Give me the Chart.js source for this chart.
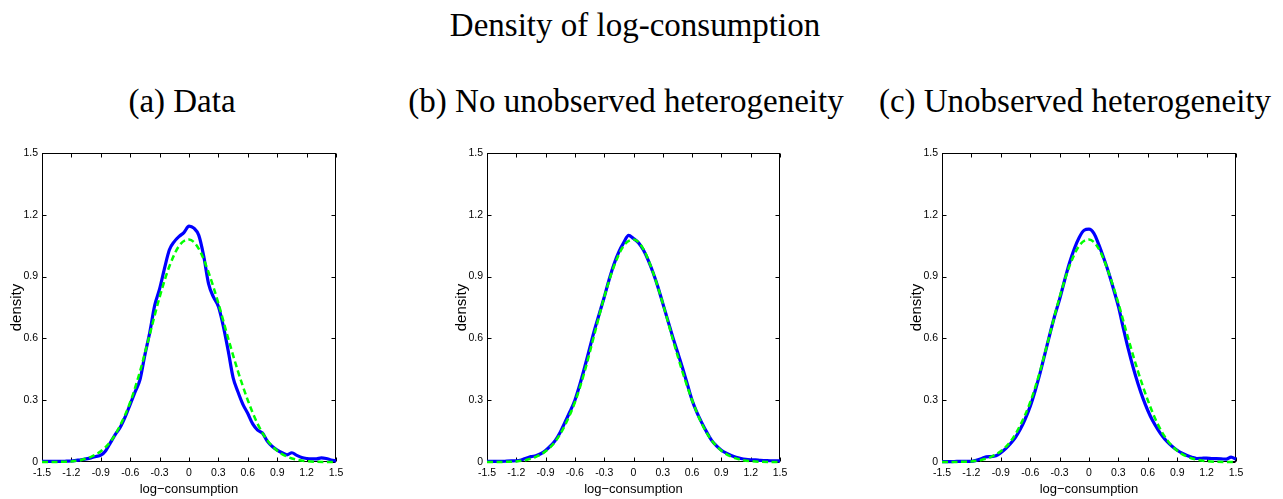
<!DOCTYPE html>
<html><head><meta charset="utf-8">
<script src="https://cdn.jsdelivr.net/npm/chart.js@4.4.0/dist/chart.umd.min.js"></script>
<style>
html,body{margin:0;padding:0;background:#fff;}
body{width:1283px;height:499px;position:relative;overflow:hidden;}
.t{position:absolute;font-family:"Liberation Serif","Times New Roman",serif;font-size:33px;line-height:33px;white-space:nowrap;color:#000;text-align:center;width:600px;}
.c{position:absolute;top:140px;}
</style></head><body>
<div class="t" style="left:335px;top:9px">Density of log-consumption</div>
<div class="t" style="left:-118px;top:85px">(a) Data</div>
<div class="t" style="left:326px;top:85px">(b) No unobserved heterogeneity</div>
<div class="t" style="left:775px;top:85px">(c) Unobserved heterogeneity</div>
<canvas class="c" id="ca" width="360" height="359" style="left:0px"></canvas>
<canvas class="c" id="cb" width="359" height="359" style="left:445px"></canvas>
<canvas class="c" id="cc" width="360" height="359" style="left:900px"></canvas>
<script>
// log-consumption grid (fine) for kernel densities
const xFine = [-1.5,-1.45,-1.4,-1.35,-1.3,-1.25,-1.2,-1.15,-1.1,-1.05,-1.0,-0.95,-0.9,-0.85,-0.8,-0.75,-0.7,-0.65,-0.6,-0.55,-0.5,-0.45,-0.4,-0.35,-0.3,-0.25,-0.2,-0.15,-0.1,-0.05,0,0.05,0.1,0.15,0.2,0.25,0.3,0.35,0.4,0.45,0.5,0.55,0.6,0.65,0.7,0.75,0.8,0.85,0.9,0.95,1.0,1.05,1.1,1.15,1.2,1.25,1.3,1.35,1.4,1.45,1.5];
// coarse grid for the reference (dashed) density
const xCoarse = [-1.5,-1.4,-1.3,-1.2,-1.1,-1.0,-0.9,-0.8,-0.7,-0.6,-0.5,-0.4,-0.3,-0.2,-0.1,0,0.1,0.2,0.3,0.4,0.5,0.6,0.7,0.8,0.9,1.0,1.1,1.2,1.3,1.4,1.5];

const densityData = [0.003,0.003,0.003,0.003,0.003,0.004,0.005,0.008,0.011,0.015,0.02,0.027,0.033,0.055,0.095,0.135,0.17,0.22,0.28,0.34,0.40,0.52,0.63,0.76,0.84,0.94,1.03,1.07,1.095,1.115,1.145,1.135,1.10,1.0,0.865,0.80,0.755,0.66,0.54,0.41,0.34,0.28,0.235,0.185,0.155,0.14,0.10,0.075,0.058,0.045,0.035,0.045,0.032,0.022,0.017,0.015,0.015,0.02,0.017,0.01,0.005];
const densityNoHet = [0.003,0.003,0.003,0.003,0.004,0.005,0.006,0.01,0.018,0.026,0.03,0.04,0.056,0.078,0.105,0.145,0.195,0.245,0.30,0.375,0.46,0.55,0.64,0.72,0.80,0.885,0.96,1.02,1.065,1.10,1.085,1.065,1.03,0.98,0.92,0.85,0.77,0.69,0.61,0.535,0.46,0.38,0.30,0.24,0.19,0.145,0.105,0.078,0.057,0.043,0.032,0.023,0.017,0.013,0.011,0.01,0.008,0.007,0.006,0.006,0.005];
const densityHet = [0.002,0.002,0.002,0.003,0.003,0.003,0.003,0.008,0.016,0.025,0.026,0.03,0.045,0.065,0.09,0.12,0.16,0.21,0.27,0.345,0.43,0.525,0.62,0.71,0.79,0.88,0.965,1.035,1.09,1.125,1.13,1.11,1.055,0.99,0.92,0.84,0.755,0.65,0.55,0.46,0.38,0.31,0.25,0.20,0.16,0.125,0.097,0.075,0.057,0.043,0.032,0.023,0.017,0.018,0.019,0.017,0.016,0.015,0.014,0.024,0.013];
const referenceDensity = [0,0,0.001,0.003,0.01,0.025,0.052,0.1,0.18,0.29,0.44,0.62,0.80,0.95,1.05,1.08,1.035,0.92,0.77,0.60,0.44,0.30,0.185,0.105,0.055,0.026,0.011,0.004,0.001,0,0];

const xTickValues = [-1.5,-1.2,-0.9,-0.6,-0.3,0,0.3,0.6,0.9,1.2,1.5];
const xTickLabels = ['-1.5','-1.2','-0.9','-0.6','-0.3','0','0.3','0.6','0.9','1.2','1.5'];
const yTickValues = [0,0.3,0.6,0.9,1.2,1.5];
const yTickLabels = ['0','0.3','0.6','0.9','1.2','1.5'];

const SANS = '"Liberation Sans", Arial, Helvetica, sans-serif';

const boxPlugin = {
  id: 'matlabBox',
  beforeDatasetsDraw(chart) {
    const {ctx, chartArea: a, scales} = chart;
    const L = Math.round(a.left) + 0.5, R = Math.round(a.right) - 0.5;
    const T = Math.round(a.top) + 0.5, B = Math.round(a.bottom) - 0.5;
    ctx.save();
    ctx.strokeStyle = '#000';
    ctx.lineWidth = 1;
    ctx.strokeRect(L, T, R - L, B - T);
    const tl = 4;
    ctx.beginPath();
    xTickValues.forEach(v => {
      const px = Math.round(scales.x.getPixelForValue(v)) + 0.5;
      ctx.moveTo(px, B); ctx.lineTo(px, B - tl);
      ctx.moveTo(px, T); ctx.lineTo(px, T + tl);
    });
    yTickValues.forEach(v => {
      const py = Math.round(scales.y.getPixelForValue(v)) + 0.5;
      ctx.moveTo(L, py); ctx.lineTo(L + tl, py);
      ctx.moveTo(R, py); ctx.lineTo(R - tl, py);
    });
    ctx.stroke();
    ctx.restore();
  }
};

function makeChart(id, blue) {
  return new Chart(document.getElementById(id), {
    type: 'line',
    data: {
      datasets: [
        {
          label: 'reference',
          data: xCoarse.map((x, i) => ({x: x, y: referenceDensity[i]})),
          borderColor: '#00ff00', borderWidth: 2.5, borderDash: [6, 3.5],
          pointRadius: 0, fill: false, cubicInterpolationMode: 'monotone', clip: 4
        },
        {
          label: 'kernel',
          data: xFine.map((x, i) => ({x: x, y: blue[i]})),
          borderColor: '#0000ff', borderWidth: 3.2,
          pointRadius: 0, fill: false, cubicInterpolationMode: 'monotone', clip: 4
        }
      ]
    },
    options: {
      responsive: false, animation: false, events: [],
      layout: {padding: {top: 13, right: 24, left: 0, bottom: 0}},
      plugins: {legend: {display: false}, tooltip: {enabled: false}, title: {display: false}},
      scales: {
        x: {
          type: 'linear', min: -1.5, max: 1.5,
          afterBuildTicks: s => { s.ticks = xTickValues.map(v => ({value: v})); },
          afterFit: s => { s.height = 37; },
          grid: {display: false, drawTicks: false},
          border: {display: false},
          ticks: {padding: 5, autoSkip: false, maxRotation: 0, color: '#000',
                  font: {family: SANS, size: 10.5},
                  callback: (v, i) => xTickLabels[i]},
          title: {display: true, text: 'log\u2212consumption', color: '#000',
                  font: {family: SANS, size: 13}, padding: {top: 0, bottom: 2}}
        },
        y: {
          type: 'linear', min: 0, max: 1.5,
          afterBuildTicks: s => { s.ticks = yTickValues.map(v => ({value: v})); },
          afterFit: s => { s.width = 42; },
          grid: {display: false, drawTicks: false},
          border: {display: false},
          ticks: {padding: 4, autoSkip: false, color: '#000',
                  font: {family: SANS, size: 10.5},
                  callback: (v, i) => yTickLabels[i]},
          title: {display: true, text: 'density', color: '#000',
                  font: {family: SANS, size: 15}, padding: {top: 8, bottom: 0}}
        }
      }
    },
    plugins: [boxPlugin]
  });
}

makeChart('ca', densityData);
makeChart('cb', densityNoHet);
makeChart('cc', densityHet);
</script>
</body></html>
